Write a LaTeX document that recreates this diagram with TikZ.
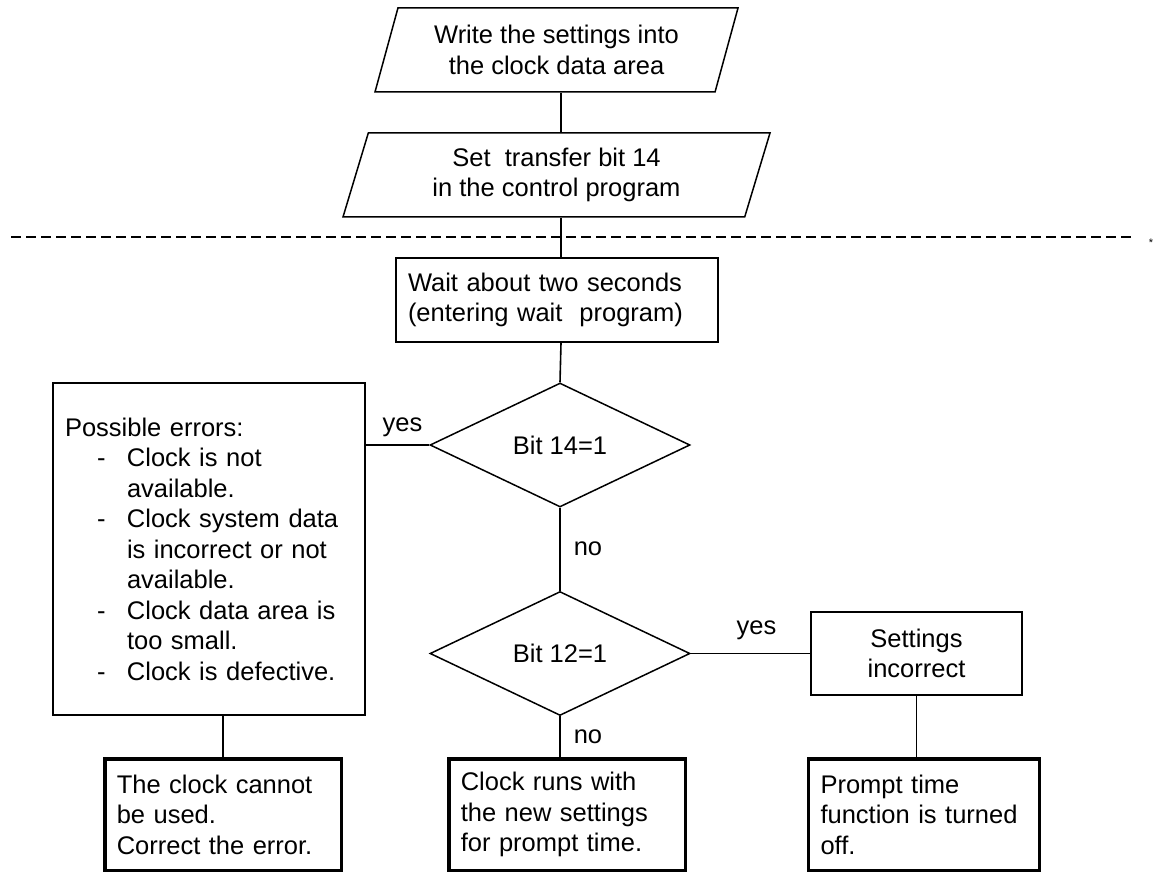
\documentclass[tikz,border=0pt]{standalone}
\usepackage{fontspec}
\setmainfont{Liberation Sans}
\usetikzlibrary{shapes.geometric,positioning}
\newcommand{\flowfont}{\fontsize{25.5}{30.5}\selectfont}
\newcommand{\errdash}{\hspace*{32pt}\makebox[30pt][l]{-}}
\newcommand{\errmore}{\hspace*{62pt}}

\begin{document}
\begin{tikzpicture}[
        x=1pt, y=-1pt,
        every node/.style={font=\flowfont},
        line/.style={draw=black, line width=1.6pt},
        io/.style={trapezium, trapezium left angle=65, trapezium right angle=115,
                trapezium stretches body, draw, line width=1.5pt,
                minimum height=84pt, inner sep=0pt, align=center},
        proc/.style={rectangle, draw, line width=1.5pt, inner xsep=12pt,
                inner ysep=0pt, align=left},
        test/.style={diamond, draw, line width=1.5pt, minimum width=260pt,
                minimum height=124pt, inner sep=0pt},
        stopbox/.style={rectangle, draw, line width=3.5pt, inner xsep=12pt,
                inner ysep=0pt, align=left, minimum height=111.5pt},
        lbl/.style={inner sep=2pt}
    ]
    \useasboundingbox (0,0) rectangle (1156,874);
    \coordinate (axis) at (561,0);

    % =============== input ===============
    \node[io, minimum width=363pt] (write) at (556.5,50)
    {Write the settings into\\ the clock data area};
    \node[io, minimum width=427pt] (transfer) at (556.5,175)
    {Set\ \ transfer bit 14\\in the control program};

    % separator
    \draw[line width=1.3pt, dash pattern=on 10pt off 5pt] (11,237) -- (1133,237);
    \node[font=\fontsize{11}{11}\selectfont, inner sep=0pt] (star) at (1151,243) {*};

    % =============== wait and tests ===============
    \node[proc, text width=298pt, minimum height=84pt] (wait) at (557,300)
    {Wait about two seconds\\(entering wait\ \ program)};
    \node[test] (bit14) at (560,445) {Bit 14=1};
    \node[test] (bit12) at (560,653.5) {Bit 12=1};

    \node[proc, text width=288pt, minimum height=332pt] (errors) at (209,549)
    {Possible errors:\\
        \errdash Clock is not\\
        \errmore available.\\
        \errdash Clock system data\\
        \errmore is incorrect or not\\
        \errmore available.\\
        \errdash Clock data area is\\
        \errmore too small.\\
        \errdash Clock is defective.};
    \node[proc, align=center, minimum width=211pt, minimum height=83pt] (wrong)
    at (916.5,653.5) {Settings\\incorrect};

    % =============== results ===============
    \node[stopbox, text width=212.5pt] (nouse) at (223,814.5)
    {The clock cannot\\be used.\\Correct the error.};
    \node[stopbox, text width=212.5pt] (runs) at (567,814.5)
    {Clock runs with\\the new settings\\for prompt time.};
    \node[stopbox, text width=207pt] (off) at (924,814.5)
    {Prompt time\\function is turned\\off.};

    % =============== connectors ===============
    \draw[line] (write.south -| axis) -- (transfer.north -| axis);
    \draw[line] (transfer.south -| axis) -- (wait.north -| axis);
    \draw[line] (wait.south -| axis) -- (bit14.north);
    \draw[line] (bit14.west) -- (bit14.west -| errors.east)
    node[lbl, pos=.42, above=5pt] {yes};
    \draw[line] (bit14.south) -- (bit12.north)
    node[lbl, midway, right=11pt] {no};
    \draw[line] (bit12.east) -- (bit12.east -| wrong.west)
    node[lbl, pos=.55, above=11pt] {yes};
    \draw[line] (bit12.south) -- (bit12.south |- runs.north)
    node[lbl, midway, right=11pt] {no};
    \draw[line] (errors.south -| nouse.north) -- (nouse.north);
    \draw[line] (wrong.south) -- (wrong.south |- off.north);

\end{tikzpicture}
\end{document}
